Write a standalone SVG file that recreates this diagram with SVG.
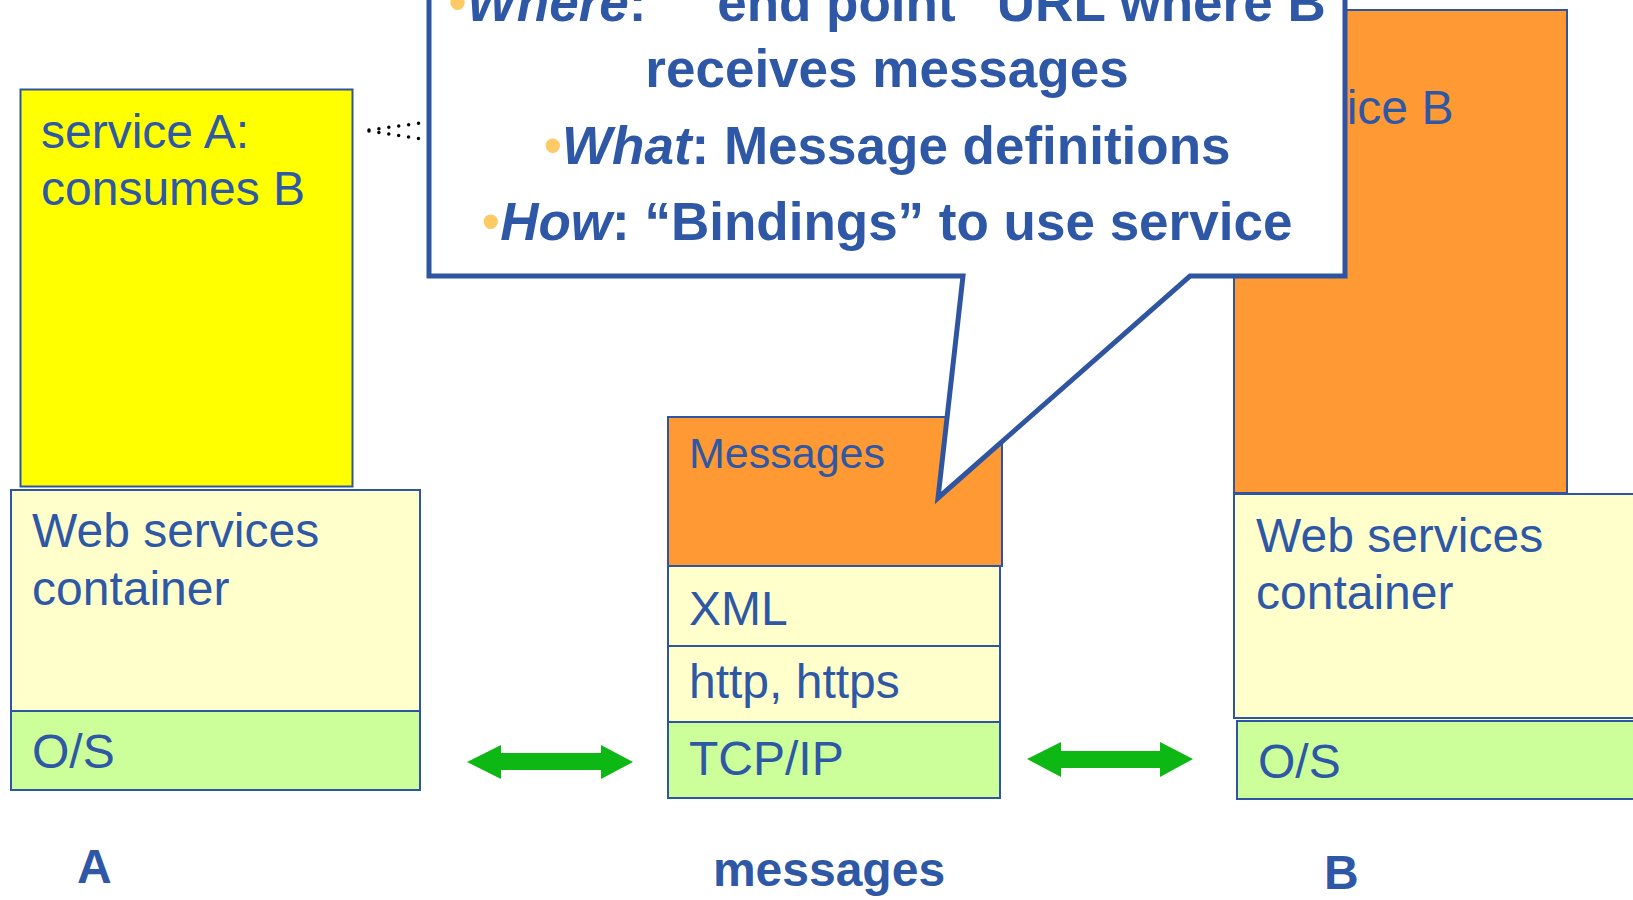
<svg xmlns="http://www.w3.org/2000/svg" width="1633" height="900" viewBox="0 0 1633 900">
<style>
.box{stroke:#2F55A0;stroke-width:2}
.t{font-family:"Liberation Sans",Arial,sans-serif;font-size:48px;fill:#2E58A6}
.b{font-weight:bold}
.co{font-family:"Liberation Sans",Arial,sans-serif;font-size:53px;font-weight:bold;fill:#2E58A6;text-anchor:middle}
.bul{fill:#FFC966;font-weight:normal;font-style:normal}
.arr{fill:#0DB814}
</style>
<rect width="1633" height="900" fill="#FFFFFF"/>
<g id="serviceA">
<rect class="box" x="20.5" y="89.5" width="332" height="397" fill="#FFFF00"/>
<text class="t" x="41" y="148">service A:</text>
<text class="t" x="41" y="205">consumes B</text>
</g>
<g id="containerA">
<rect class="box" x="11" y="490" width="409" height="221" fill="#FFFFCC"/>
<text class="t" x="32" y="547">Web services</text>
<text class="t" x="32" y="605">container</text>
</g>
<g id="osA">
<rect class="box" x="11" y="711" width="409" height="79" fill="#CCFF99"/>
<text class="t" x="32" y="768">O/S</text>
</g>
<g id="serviceB">
<rect class="box" x="1234" y="10" width="333" height="483" fill="#FF9933"/>
<text class="t" x="1256" y="124">service B</text>
</g>
<g id="containerB">
<rect class="box" x="1234" y="494" width="420" height="224" fill="#FFFFCC"/>
<text class="t" x="1256" y="552">Web services</text>
<text class="t" x="1256" y="609">container</text>
</g>
<g id="osB">
<rect class="box" x="1237" y="721" width="420" height="78" fill="#CCFF99"/>
<text class="t" x="1258" y="778">O/S</text>
</g>
<g id="messagesBox">
<rect class="box" x="668" y="417" width="334" height="149" fill="#FF9933"/>
<text class="t" x="689" y="468" style="font-size:43px">Messages</text>
</g>
<g id="xml">
<rect class="box" x="668" y="566" width="332" height="80" fill="#FFFFCC"/>
<text class="t" x="689" y="625">XML</text>
</g>
<g id="http">
<rect class="box" x="668" y="646" width="332" height="76" fill="#FFFFCC"/>
<text class="t" x="689" y="698">http, https</text>
</g>
<g id="tcpip">
<rect class="box" x="668" y="722" width="332" height="76" fill="#CCFF99"/>
<text class="t" x="689" y="775">TCP/IP</text>
</g>
<g id="connectors">
<polygon class="arr" points="467,762 501,745 501,753 601,753 601,745 633,762 601,779 601,770 501,770 501,779"/>
<polygon class="arr" points="1027,759 1061,742 1061,751 1160,751 1160,742 1193,759 1160,777 1160,768 1061,768 1061,777"/>
<path d="M369,130 L428,122 M369,131 L428,140" fill="none" stroke="#000" stroke-width="3.5" stroke-linecap="round" stroke-dasharray="0 10"/>
</g>
<g id="callout">
<path d="M429,-20 L1345,-20 L1345,276 L1190,276 L938,498 L963,276 L429,276 Z" fill="#FFFFFF" stroke="#2F55A0" stroke-width="5"/>
<text class="co" x="887" y="21" xml:space="preserve"><tspan class="bul">•</tspan><tspan font-style="italic">Where</tspan>:   “end point” URL where B</text>
<text class="co" x="887" y="87">receives messages</text>
<text class="co" x="887" y="164"><tspan class="bul">•</tspan><tspan font-style="italic">What</tspan>: Message definitions</text>
<text class="co" x="887" y="240"><tspan class="bul">•</tspan><tspan font-style="italic">How</tspan>: “Bindings” to use service</text>
</g>
<g id="labels">
<text class="t b" x="77" y="883">A</text>
<text class="t b" x="829" y="886" text-anchor="middle">messages</text>
<text class="t b" x="1324" y="889">B</text>
</g>
</svg>
